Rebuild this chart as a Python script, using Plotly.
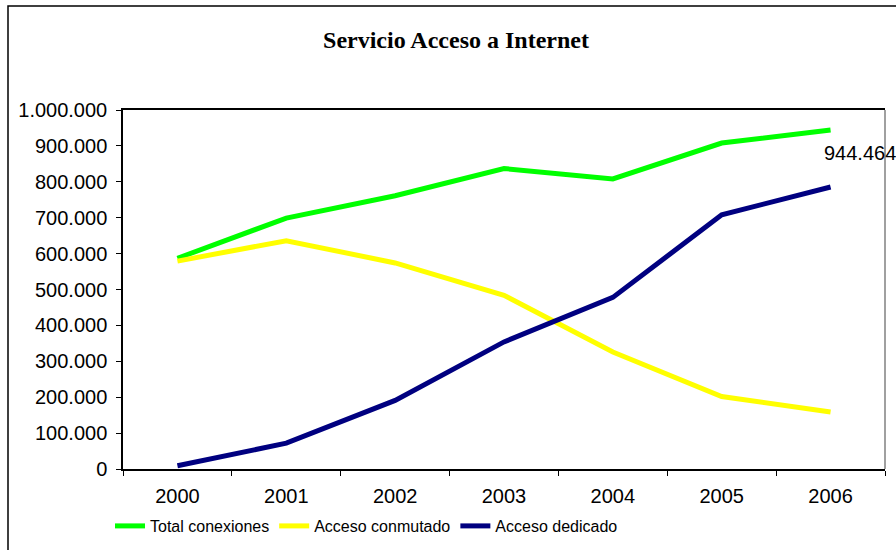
import plotly.graph_objects as go

# Años y conexiones por tipo de acceso
years = ["2000", "2001", "2002", "2003", "2004", "2005", "2006"]
total_conexiones = [587000, 699000, 761000, 837000, 808000, 908000, 944464]
acceso_conmutado = [579000, 636000, 574000, 484000, 326000, 202000, 159000]
acceso_dedicado = [9000, 72000, 191000, 354000, 478000, 708000, 785500]

y_ticks = list(range(0, 1000001, 100000))

W, H = 896, 550
L, R, T, B = 123, 11, 110, 81
pw, ph = W - L - R, H - T - B

fig = go.Figure()
series = [
    ("Total conexiones", total_conexiones, "#00FF00"),
    ("Acceso conmutado", acceso_conmutado, "#FFFF00"),
    ("Acceso dedicado", acceso_dedicado, "#000080"),
]
for name, vals, color in series:
    fig.add_trace(go.Scatter(
        x=years, y=vals, name=name, mode="lines",
        line=dict(color=color, width=5),
    ))

# etiqueta del último valor total
last = total_conexiones[-1]
fig.add_annotation(
    x=len(years) - 1, y=last, xref="x", yref="y",
    text=f"{last:,}".replace(",", "."),
    showarrow=False, xanchor="left", yanchor="top",
    xshift=-9, yshift=-10,
    font=dict(family="Liberation Sans, Arial, sans-serif", size=20, color="#000000"),
)

def px_x(px):
    return (px - L) / pw

def px_y(py):
    return (H - B - py) / ph

# marco exterior del gráfico y borde derecho del área de trazado
fig.add_shape(type="rect", xref="paper", yref="paper",
              x0=px_x(8), x1=px_x(905), y0=px_y(560), y1=px_y(6),
              line=dict(color="#000000", width=1.5), fillcolor="rgba(0,0,0,0)")
fig.add_shape(type="line", xref="paper", yref="paper",
              x0=1, x1=1, y0=0, y1=1, line=dict(color="#808080", width=1.5))

fig.update_layout(
    width=W, height=H,
    margin=dict(l=L, r=R, t=T, b=B, autoexpand=False),
    paper_bgcolor="#FFFFFF", plot_bgcolor="#FFFFFF",
    separators=",.",
    title=dict(
        text="<b>Servicio Acceso a Internet</b>",
        x=456 / W, xanchor="center", xref="container",
        y=1 - 40 / H, yanchor="middle", yref="container",
        font=dict(family="Liberation Serif, Times New Roman, serif", size=24, color="#000000"),
    ),
    showlegend=True,
    legend=dict(
        orientation="h", x=110 / W, xanchor="left", xref="container",
        y=1 - 526 / H, yanchor="middle", yref="container",
        font=dict(family="Liberation Sans, Arial, sans-serif", size=16, color="#000000"),
        bgcolor="rgba(0,0,0,0)", itemwidth=30, tracegroupgap=0,
    ),
    font=dict(family="Liberation Sans, Arial, sans-serif", size=20, color="#000000"),
)
fig.update_xaxes(
    type="category", range=[-0.5, len(years) - 0.5], automargin=False,
    showgrid=False, zeroline=False,
    showline=True, linecolor="#000000", linewidth=1.5, mirror=True,
    ticks="outside", ticklen=5, tickcolor="#000000", tickwidth=1,
    tickson="boundaries", tickangle=0, ticklabelstandoff=8,
    tickfont=dict(family="Liberation Sans, Arial, sans-serif", size=20, color="#000000"),
)
fig.update_yaxes(
    range=[0, 1000000], tickvals=y_ticks, tickformat=",d", automargin=False,
    showgrid=False, zeroline=False,
    showline=True, linecolor="#000000", linewidth=1.5,
    ticks="outside", ticklen=5, tickcolor="#000000", tickwidth=1,
    ticklabelstandoff=5,
    tickfont=dict(family="Liberation Sans, Arial, sans-serif", size=20, color="#000000"),
)

fig.write_html("out.html")
